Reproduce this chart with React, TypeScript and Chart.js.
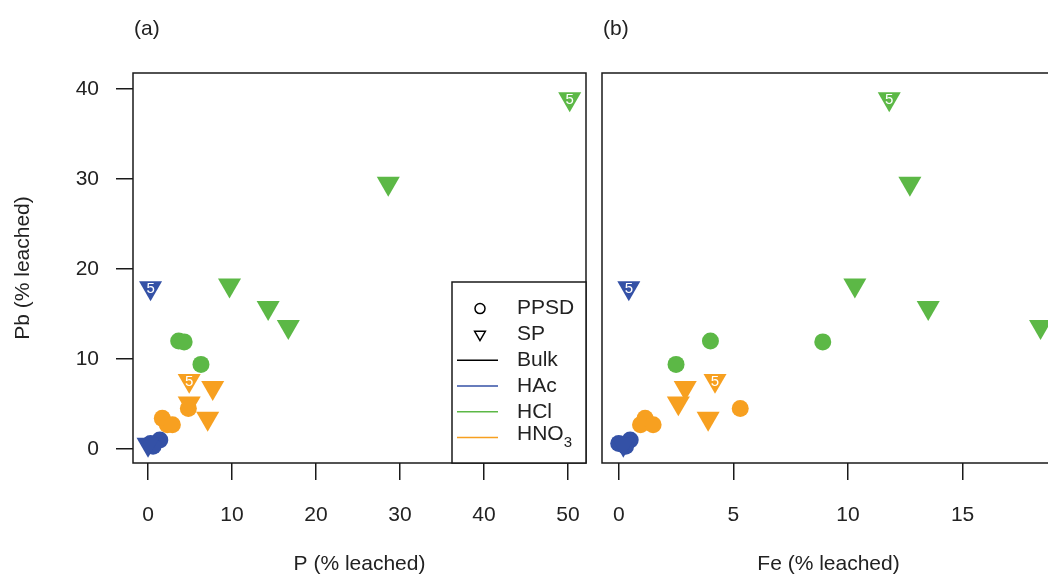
import React, { useEffect, useRef } from "react";
import { Chart, registerables } from "chart.js";
Chart.register(...registerables);

const FONT = "'Liberation Sans', Arial, Helvetica, sans-serif";
const TEXT = "#222222";
const BLUE = "#3451a6";
const GREEN = "#5cb846";
const ORANGE = "#f7a020";

// tick labels
const yTickValues = [0, 10, 20, 30, 40];
const xTickValuesA = [0, 10, 20, 30, 40, 50];
const xTickValuesB = [0, 5, 10, 15];

const yTitle = "Pb (% leached)";
const xTitleA = "P (% leached)";
const xTitleB = "Fe (% leached)";
const tagA = "(a)";
const tagB = "(b)";

// Pb (% leached) — shared y values
const hacPpsdPb = [1.0, 0.6, 0.3];
const hacSpPb = [17.9, 0.5];
const hclPpsdPb = [12.0, 11.9, 9.4];
const hclSpPb = [38.9, 29.5, 18.2, 15.7, 13.6];
const hno3PpsdPb = [4.5, 3.4, 2.7, 2.7];
const hno3SpPb = [7.6, 6.8, 5.1, 3.4];

// P (% leached) — panel (a)
const hacPpsdP = [1.4, 0.3, 0.6];
const hacSpP = [0.3, 0.0];
const hclPpsdP = [3.65, 4.3, 6.3];
const hclSpP = [50.2, 28.6, 9.7, 14.3, 16.7];
const hno3PpsdP = [4.8, 1.7, 2.3, 2.9];
const hno3SpP = [4.9, 7.7, 4.9, 7.1];

// Fe (% leached) — panel (b)
const hacPpsdFe = [0.5, 0.0, 0.3];
const hacSpFe = [0.44, 0.2];
const hclPpsdFe = [4.0, 8.9, 2.5];
const hclSpFe = [11.8, 12.7, 10.3, 13.5, 18.4];
const hno3PpsdFe = [5.3, 1.15, 0.95, 1.5];
const hno3SpFe = [4.2, 2.9, 2.6, 3.9];

// sample tags shown inside SP markers
const hacSpTags = ["5", ""];
const hclSpTags = ["5", "", "", "", ""];
const hno3SpTags = ["5", "", "", ""];

// legend
const legendLabels = ["PPSD", "SP", "Bulk", "HAc", "HCl", "HNO"];
const legendKinds = ["circle", "triangle", "line", "line", "line", "line"];
const legendColors = ["#000000", "#000000", "#000000", BLUE, GREEN, ORANGE];

const pts = (xs: number[], ys: number[]) => xs.map((x, i) => ({ x, y: ys[i] }));

function circleSet(xs: number[], ys: number[], color: string) {
  return {
    data: pts(xs, ys),
    pointStyle: "circle",
    pointRadius: 8.5,
    pointHoverRadius: 8.5,
    pointBackgroundColor: color,
    pointBorderWidth: 0,
    borderWidth: 0,
  };
}
function triSet(xs: number[], ys: number[], color: string, tags: string[]) {
  return {
    data: pts(xs, ys),
    tags,
    pointStyle: "triangle",
    pointRotation: 180,
    pointRadius: 13.3,
    pointHoverRadius: 13.3,
    pointBackgroundColor: color,
    pointBorderWidth: 0,
    borderWidth: 0,
  };
}

const decorPlugin = {
  id: "decor",
  afterDatasetsDraw(chart: any) {
    const ctx = chart.ctx;
    ctx.save();
    ctx.fillStyle = "#ffffff";
    ctx.font = `15px ${FONT}`;
    ctx.textAlign = "center";
    ctx.textBaseline = "middle";
    chart.data.datasets.forEach((ds: any, i: number) => {
      if (!ds.tags) return;
      const meta = chart.getDatasetMeta(i);
      meta.data.forEach((p: any, j: number) => {
        if (ds.tags[j]) ctx.fillText(ds.tags[j], p.x, p.y + 1);
      });
    });
    ctx.restore();
  },
  afterDraw(chart: any, _args: any, opts: any) {
    const ctx = chart.ctx;
    const { left, top, right, bottom } = chart.chartArea;
    ctx.save();
    ctx.strokeStyle = "#1a1a1a";
    ctx.lineWidth = 1.5;
    ctx.strokeRect(left, top, right - left, bottom - top);
    ctx.fillStyle = TEXT;
    ctx.font = `21px ${FONT}`;
    ctx.textAlign = "left";
    ctx.textBaseline = "middle";
    ctx.fillText(opts.tag, left + 1, 29);
    if (opts.legend) {
      const w = 134;
      const h = 181;
      const bx = right - w;
      const by = bottom - h;
      ctx.fillStyle = "#ffffff";
      ctx.fillRect(bx, by, w, h);
      ctx.strokeRect(bx, by, w, h);
      legendLabels.forEach((lab, i) => {
        const cy = by + 26.6 + i * 25.8;
        const kind = legendKinds[i];
        ctx.strokeStyle = legendColors[i];
        ctx.lineWidth = 1.5;
        if (kind === "circle") {
          ctx.beginPath();
          ctx.arc(bx + 28, cy, 5, 0, Math.PI * 2);
          ctx.stroke();
        } else if (kind === "triangle") {
          const r = 6.2;
          ctx.beginPath();
          ctx.moveTo(bx + 28, cy + r);
          ctx.lineTo(bx + 28 - r * 0.866, cy - r / 2);
          ctx.lineTo(bx + 28 + r * 0.866, cy - r / 2);
          ctx.closePath();
          ctx.stroke();
        } else {
          ctx.beginPath();
          ctx.moveTo(bx + 5, cy);
          ctx.lineTo(bx + 46, cy);
          ctx.stroke();
        }
        ctx.fillStyle = TEXT;
        ctx.font = `21px ${FONT}`;
        ctx.textAlign = "left";
        if (i === legendLabels.length - 1) {
          ctx.fillText(lab, bx + 65, cy - 3);
          const wMain = ctx.measureText(lab).width;
          ctx.font = `15px ${FONT}`;
          ctx.fillText("3", bx + 65 + wMain, cy + 5);
        } else {
          ctx.fillText(lab, bx + 65, cy);
        }
      });
    }
    ctx.restore();
  },
};

function makeChart(
  canvas: HTMLCanvasElement,
  cfg: {
    hacPpsd: number[];
    hacSp: number[];
    hclPpsd: number[];
    hclSp: number[];
    hno3Ppsd: number[];
    hno3Sp: number[];
    xMin: number;
    xMax: number;
    xTicks: number[];
    xTitle: string;
    showY: boolean;
    padLeft: number;
    padRight: number;
    tag: string;
    legend: boolean;
  }
) {
  const datasets: any[] = [
    triSet(cfg.hacSp, hacSpPb, BLUE, hacSpTags),
    circleSet(cfg.hacPpsd, hacPpsdPb, BLUE),
    triSet(cfg.hno3Sp, hno3SpPb, ORANGE, hno3SpTags),
    circleSet(cfg.hno3Ppsd, hno3PpsdPb, ORANGE),
    triSet(cfg.hclSp, hclSpPb, GREEN, hclSpTags),
    circleSet(cfg.hclPpsd, hclPpsdPb, GREEN),
  ];
  const gridOpts = {
    display: true,
    drawOnChartArea: false,
    drawTicks: true,
    tickLength: 17,
    color: "#1a1a1a",
    lineWidth: 1.5,
  };
  return new Chart(canvas, {
    type: "scatter",
    data: { datasets },
    options: {
      responsive: false,
      animation: false,
      devicePixelRatio: 1,
      events: [],
      layout: {
        autoPadding: false,
        padding: { left: cfg.padLeft, right: cfg.padRight, top: 73, bottom: 0 },
      },
      plugins: {
        legend: { display: false },
        tooltip: { enabled: false },
        decor: { tag: cfg.tag, legend: cfg.legend },
      } as any,
      scales: {
        x: {
          type: "linear",
          position: "bottom",
          min: cfg.xMin,
          max: cfg.xMax,
          afterBuildTicks: (s: any) => {
            s.ticks = cfg.xTicks.map((v) => ({ value: v }));
          },
          afterFit: (s: any) => {
            s.height = 112;
            s.paddingLeft = 0;
            s.paddingRight = 0;
          },
          grid: gridOpts,
          border: { display: false },
          ticks: {
            color: TEXT,
            font: { family: FONT, size: 21, lineHeight: 1.2 },
            padding: 23,
            maxRotation: 0,
            autoSkip: false,
            callback: (v: any) => String(v),
          },
          title: {
            display: true,
            text: cfg.xTitle,
            color: TEXT,
            font: { family: FONT, size: 21, lineHeight: 1 },
            padding: { top: 0, bottom: 0 },
          },
        },
        y: {
          type: "linear",
          display: cfg.showY,
          min: -1.56,
          max: 41.78,
          afterBuildTicks: (s: any) => {
            s.ticks = yTickValues.map((v) => ({ value: v }));
          },
          afterFit: (s: any) => {
            s.width = cfg.showY ? 133 : 0;
            s.paddingTop = 0;
            s.paddingBottom = 0;
          },
          grid: gridOpts,
          border: { display: false },
          ticks: {
            color: TEXT,
            font: { family: FONT, size: 21, lineHeight: 1.2 },
            padding: 17,
            autoSkip: false,
            callback: (v: any) => String(v),
          },
          title: {
            display: true,
            text: yTitle,
            color: TEXT,
            font: { family: FONT, size: 21, lineHeight: 1 },
            padding: { top: 13, bottom: 0 },
          },
        },
      },
    } as any,
    plugins: [decorPlugin as any],
  });
}

export default function App() {
  const refA = useRef<HTMLCanvasElement>(null);
  const refB = useRef<HTMLCanvasElement>(null);

  useEffect(() => {
    const a = makeChart(refA.current!, {
      hacPpsd: hacPpsdP,
      hacSp: hacSpP,
      hclPpsd: hclPpsdP,
      hclSp: hclSpP,
      hno3Ppsd: hno3PpsdP,
      hno3Sp: hno3SpP,
      xMin: -1.79,
      xMax: 52.14,
      xTicks: xTickValuesA,
      xTitle: xTitleA,
      showY: true,
      padLeft: 0,
      padRight: 10,
      tag: tagA,
      legend: true,
    });
    const b = makeChart(refB.current!, {
      hacPpsd: hacPpsdFe,
      hacSp: hacSpFe,
      hclPpsd: hclPpsdFe,
      hclSp: hclSpFe,
      hno3Ppsd: hno3PpsdFe,
      hno3Sp: hno3SpFe,
      xMin: -0.73,
      xMax: 19.03,
      xTicks: xTickValuesB,
      xTitle: xTitleB,
      showY: false,
      padLeft: 6,
      padRight: 20,
      tag: tagB,
      legend: false,
    });
    return () => {
      a.destroy();
      b.destroy();
    };
  }, []);

  return (
    <div
      style={{
        position: "fixed",
        left: 0,
        top: 0,
        width: 1048,
        height: 575,
        overflow: "hidden",
        background: "#ffffff",
      }}
    >
      <canvas ref={refA} width={596} height={575} style={{ position: "absolute", left: 0, top: 0 }} />
      <canvas ref={refB} width={479} height={575} style={{ position: "absolute", left: 596, top: 0 }} />
    </div>
  );
}
